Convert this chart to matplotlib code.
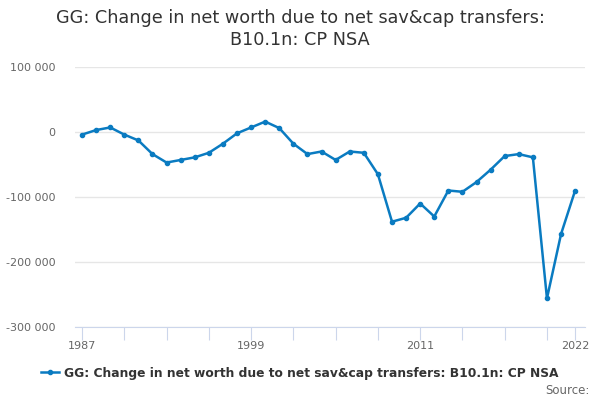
import numpy as np
import matplotlib
matplotlib.use("Agg")
import matplotlib.pyplot as plt
from matplotlib.ticker import FuncFormatter, FixedLocator
from matplotlib.lines import Line2D

# data
years = list(range(1987, 2023))
values = [
    -4000, 3000, 7000, -4000, -13000, -34000, -47000, -43000, -39000, -32000,
    -18000, -2000, 7000, 16000, 6000, -18000, -34000, -30000, -43000, -30000,
    -32000, -65000, -138000, -132000, -110000, -130000, -90000, -92000, -77000, -58000,
    -37000, -34000, -39000, -256000, -157000, -90000,
]
yticks = [-300000, -200000, -100000, 0, 100000]
xtick_marks = list(range(1987, 2021, 3)) + [2022]
xtick_labels = {1987: "1987", 1999: "1999", 2011: "2011", 2022: "2022"}

TITLE = "GG: Change in net worth due to net sav&cap transfers:\nB10.1n: CP NSA"
SERIES = "GG: Change in net worth due to net sav&cap transfers: B10.1n: CP NSA"
LINE_COLOR = "#0a7bc1"
GRID_COLOR = "#e6e6e6"
AXIS_COLOR = "#ccd6eb"

fig = plt.figure(figsize=(6, 4), dpi=100)
ax = fig.add_axes([0.125, 0.1825, 0.85, 0.65])

ax.plot(years, values, color=LINE_COLOR, linewidth=1.8, marker="o", markersize=3)

ax.set_xlim(1986.5, 2022.7)
ax.set_ylim(-300000, 100000)

ax.set_yticks(yticks)
ax.yaxis.set_major_formatter(FuncFormatter(lambda v, p: f"{int(v):,}".replace(",", " ")))
ax.xaxis.set_major_locator(FixedLocator(xtick_marks))
ax.set_xticklabels([xtick_labels.get(t, "") for t in xtick_marks])

ax.grid(axis="y", color=GRID_COLOR, linewidth=1)
ax.set_axisbelow(True)
for side in ["top", "right", "left"]:
    ax.spines[side].set_visible(False)
ax.spines["bottom"].set_color(AXIS_COLOR)
ax.tick_params(axis="y", length=0, labelsize=8, labelcolor="#666666", pad=14)
ax.tick_params(axis="x", length=9, color=AXIS_COLOR, labelsize=8, labelcolor="#666666", pad=1)

fig.text(0.5, 0.927, TITLE, ha="center", va="center", fontsize=12.7, color="#333333", linespacing=1.25)

handle = Line2D([], [], color=LINE_COLOR, linewidth=1.8, marker="o", markersize=3)
fig.legend([handle], [SERIES], loc="center", bbox_to_anchor=(0.5, 0.067), frameon=False,
           prop={"size": 8.8, "weight": "bold"}, labelcolor="#333333", handlelength=1.5, handletextpad=0.4)

fig.text(0.982, 0.025, "Source:", ha="right", va="center", fontsize=8.5, color="#666666")

fig.savefig("out.png", dpi=100)
plt.close(fig)
